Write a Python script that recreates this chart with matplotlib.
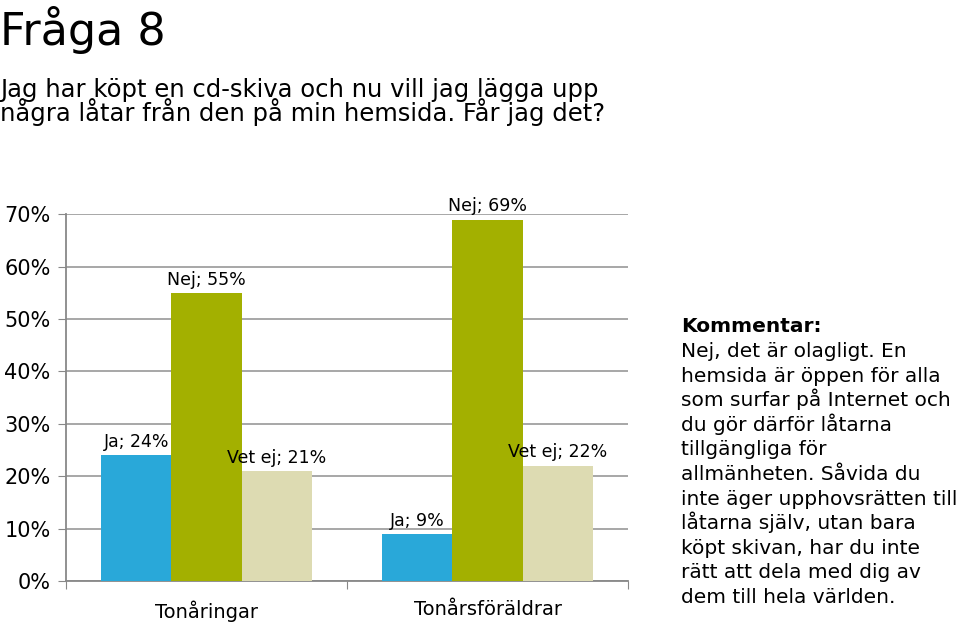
import numpy as np
import matplotlib
matplotlib.use("Agg")
import matplotlib.pyplot as plt

plt.rcParams['font.family'] = ['DejaVu Sans']

groups = ["Tonåringar", "Tonårsföräldrar"]
answers = ["Ja", "Nej", "Vet ej"]
ja = [0.24, 0.09]
nej = [0.55, 0.69]
vet_ej = [0.21, 0.22]
colors = ["#29A8D9", "#A3B000", "#DDDBB2"]

title = "Fråga 8"
question = ("Jag har köpt en cd-skiva och nu vill jag lägga upp\n"
            "några låtar från den på min hemsida. Får jag det?")
comment_head = "Kommentar:"
comment_lines = [
    "Nej, det är olagligt. En",
    "hemsida är öppen för alla",
    "som surfar på Internet och",
    "du gör därför låtarna",
    "tillgängliga för",
    "allmänheten. Såvida du",
    "inte äger upphovsrätten till",
    "låtarna själv, utan bara",
    "köpt skivan, har du inte",
    "rätt att dela med dig av",
    "dem till hela världen.",
]

fig = plt.figure(figsize=(9.6, 6.26), dpi=100)
ax = fig.add_axes([66 / 960, 45 / 626, 562 / 960, 366.7 / 626])

x = np.arange(len(groups))
w = 0.25
for i, (name, vals) in enumerate(zip(answers, [ja, nej, vet_ej])):
    pos = x + (i - 1) * w
    ax.bar(pos, vals, width=w, color=colors[i], zorder=3)
    for p, v in zip(pos, vals):
        ax.annotate(f"{name}; {round(v * 100)}%", (p, v), xytext=(0, 6),
                    textcoords="offset points", ha="center", va="baseline",
                    fontsize=12.5, annotation_clip=False)

ax.set_xlim(-0.5, len(groups) - 0.5)
ax.set_ylim(0, 0.7)
ax.set_yticks(np.arange(0, 0.71, 0.1))
ax.set_yticklabels([f"{int(round(t * 100))}%" for t in np.arange(0, 0.71, 0.1)], fontsize=15)
ax.yaxis.grid(True, color="#A0A0A0", linewidth=1.3, zorder=0)
ax.set_axisbelow(True)

ax.set_xticks(np.arange(-0.5, len(groups), 1.0))
ax.set_xticklabels([])
ax.set_xticks(x, minor=True)
ax.set_xticklabels(groups, minor=True, fontsize=14)
ax.tick_params(axis="x", which="minor", length=0, pad=14)
ax.tick_params(axis="x", which="major", length=6, color="#888888", direction="out")
ax.tick_params(axis="y", length=6, color="#888888", direction="out", pad=5)

for s in ["top", "right"]:
    ax.spines[s].set_visible(False)
for s in ["left", "bottom"]:
    ax.spines[s].set_color("#888888")
    ax.spines[s].set_linewidth(1.3)

fig.text(0.0, 1 - 45 / 626, title, fontsize=32, ha="left", va="baseline")
fig.text(0.0, 1 - 121 / 626, question, fontsize=17.5, ha="left", va="baseline",
         linespacing=0.85)

fig.text(681 / 960, 1 - 332 / 626, comment_head, fontsize=14.5, fontweight="bold",
         ha="left", va="baseline")
for k, line in enumerate(comment_lines):
    fig.text(681 / 960, 1 - (357 + k * 24.6) / 626, line, fontsize=14.5,
             ha="left", va="baseline")

fig.savefig("out.png", dpi=100)
